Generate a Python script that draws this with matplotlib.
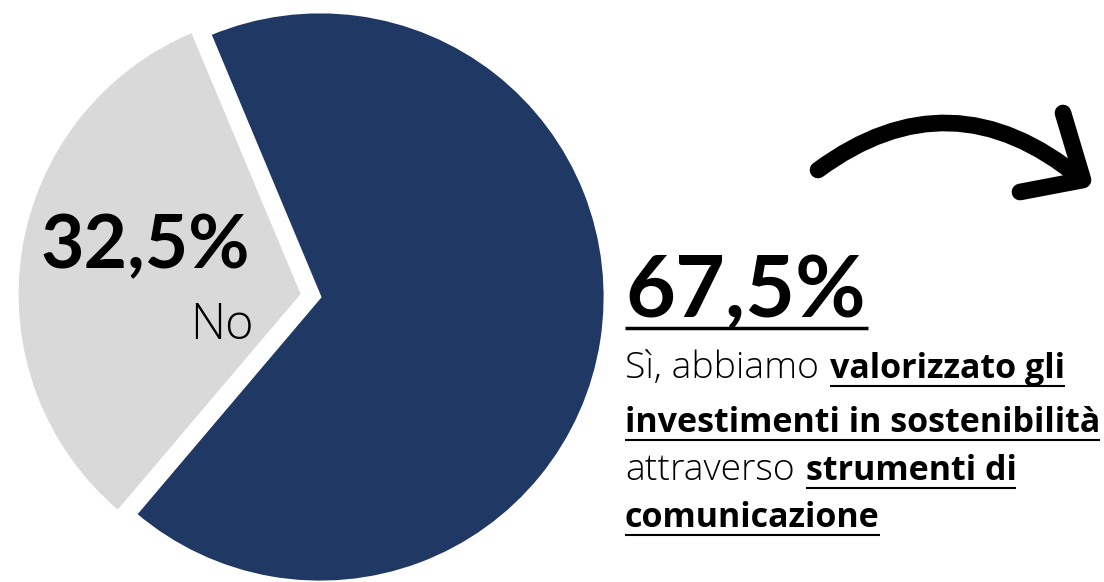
import matplotlib
matplotlib.use("Agg")
import matplotlib.pyplot as plt
from matplotlib.path import Path
from matplotlib.patches import PathPatch

# ---- data ----
categories = ["No", "Sì"]
shares = [32.5, 67.5]
pct_labels = ["32,5%", "67,5%"]
colors = ["#D9D9D9", "#203864"]
description = [
    [("Sì, abbiamo ", False), ("valorizzato gli", True)],
    [("investimenti in sostenibilità", True)],
    [("attraverso ", False), ("strumenti di", True)],
    [("comunicazione", True)],
]

W, H = 1104, 582
FONT = "Lato"
DFONT = "Open Sans"

fig = plt.figure(figsize=(W / 100, H / 100), dpi=100)
ax = fig.add_axes([0, 0, 1, 1])


def Y(ypx):
    return H - ypx


# ---- pie ----
ax.pie(shares, colors=colors, startangle=112.7, counterclock=True,
       center=(320, Y(297)), radius=285, explode=[18, 0],
       wedgeprops=dict(edgecolor="white", linewidth=2), frame=True)
ax.set_xlim(0, W)
ax.set_ylim(0, H)
ax.set_aspect("equal")
ax.axis("off")

# ---- left labels ----
ax.text(250, Y(268), pct_labels[0], fontsize=54, fontweight="bold",
        family=FONT, ha="right", va="baseline", color="black")
ax.text(254, Y(339), categories[0], fontsize=35, fontweight="light",
        family=DFONT, ha="right", va="baseline", color="black")

fig.canvas.draw()
renderer = fig.canvas.get_renderer()

# ---- right big percentage ----
t = ax.text(625, Y(317), pct_labels[1], fontsize=62, fontweight="bold",
            family=FONT, ha="left", va="baseline", color="black")
bb = t.get_window_extent(renderer)
ax.plot([625, 625 + bb.width + 2], [Y(328), Y(328)], color="black", lw=2.5,
        solid_capstyle="butt")


def width_of(s, size, weight):
    a = ax.text(0, 0, s, fontsize=size, fontweight=weight, family=DFONT)
    w = a.get_window_extent(renderer).width
    a.remove()
    return w


def space_width(size, weight):
    return width_of("a a", size, weight) - width_of("aa", size, weight)


# fit description size so the longest line spans the text column
base_size = 22
target = 1100 - 625
size = base_size * target / width_of(description[1][0][0], base_size, "bold")
reg_size = size * 1.1

baselines = [378, 432, 480, 527]
for line, base in zip(description, baselines):
    x = 625
    for txt, bold in line:
        weight = "bold" if bold else "light"
        fs = size if bold else reg_size
        core = txt.rstrip(" ")
        tt = ax.text(x, Y(base), core, fontsize=fs, fontweight=weight,
                     family=DFONT, ha="left", va="baseline", color="black")
        w = tt.get_window_extent(renderer).width
        if bold:
            ax.plot([x, x + w], [Y(base + 8), Y(base + 8)], color="black",
                    lw=1.5, solid_capstyle="butt")
        x += w
        if txt.endswith(" "):
            x += space_width(fs, weight) + 1

# ---- curved arrow ----
verts = [(818, Y(170)), (951, Y(72)), (1080, Y(178))]
arc = Path(verts, [Path.MOVETO, Path.CURVE3, Path.CURVE3])
ax.add_patch(PathPatch(arc, facecolor="none", edgecolor="black", lw=12,
                       capstyle="round", joinstyle="round"))
head = Path([(1063, Y(113)), (1083, Y(180)), (1020, Y(192))],
            [Path.MOVETO, Path.LINETO, Path.LINETO])
ax.add_patch(PathPatch(head, facecolor="none", edgecolor="black", lw=12,
                       capstyle="round", joinstyle="round"))

fig.savefig("out.png", dpi=100)
